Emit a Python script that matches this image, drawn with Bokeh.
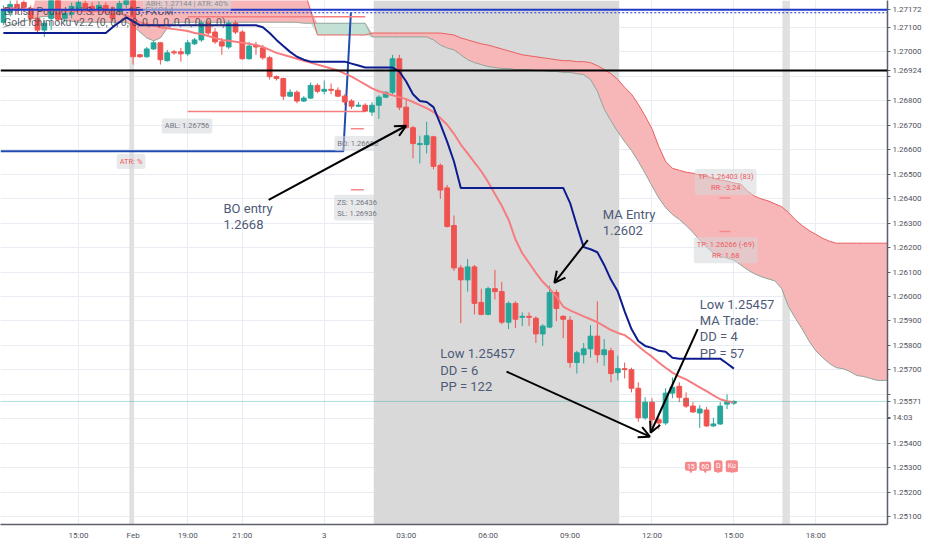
import numpy as np
from bokeh.plotting import figure
from bokeh.models import (ColumnDataSource, FixedTicker, Label, Arrow, OpenHead,
                          BoxAnnotation, NumeralTickFormatter, Range1d, Span)
from bokeh.core.properties import value
from bokeh.embed import file_html
from bokeh.resources import INLINE

# ---------------- data (15-minute bars, index 0 = first bar of February) ----------------
FIRST_BAR = -19

opens = [
    1.27121, 1.27162, 1.27194, 1.27202, 1.27178, 1.27137, 1.27089, 1.27137, 1.27210, 1.27137,
    1.27154, 1.27178, 1.27198, 1.27186, 1.27174, 1.27190, 1.27170, 1.27162, 1.27194, 1.27218,
    1.26988, 1.26980, 1.27012, 1.27037, 1.26964, 1.27000, 1.27000, 1.26992, 1.27033, 1.27049,
    1.27117, 1.27081, 1.27041, 1.27020, 1.27117, 1.27081, 1.26972, 1.27028, 1.27016, 1.26976,
    1.26899, 1.26891, 1.26819, 1.26835, 1.26799, 1.26811, 1.26863, 1.26839, 1.26847, 1.26843,
    1.26819, 1.26799, 1.26778, 1.26782, 1.26754, 1.26782, 1.26815, 1.26835, 1.26972, 1.26774,
    1.26690, 1.26621, 1.26621, 1.26653, 1.26536, 1.26444, 1.26290, 1.26117, 1.26068, 1.26121,
    1.25976, 1.25927, 1.26032, 1.26020, 1.25895, 1.25972, 1.25915, 1.25919, 1.25911, 1.25847,
    1.25875, 1.26016, 1.25919, 1.25903, 1.25730, 1.25762, 1.25786, 1.25838, 1.25762, 1.25778,
    1.25689, 1.25705, 1.25701, 1.25625, 1.25504, 1.25568, 1.25496, 1.25483, 1.25605, 1.25633,
    1.25584, 1.25552, 1.25524, 1.25536, 1.25471, 1.25479, 1.25560, 1.25564,
]
highs = [
    1.27190, 1.27210, 1.27218, 1.27226, 1.27190, 1.27154, 1.27129, 1.27234, 1.27226, 1.27170,
    1.27202, 1.27218, 1.27210, 1.27202, 1.27206, 1.27202, 1.27186, 1.27210, 1.27226, 1.27230,
    1.26992, 1.27020, 1.27045, 1.27041, 1.27008, 1.27008, 1.27016, 1.27049, 1.27057, 1.27129,
    1.27129, 1.27097, 1.27057, 1.27129, 1.27129, 1.27089, 1.27041, 1.27041, 1.27028, 1.26984,
    1.26903, 1.26895, 1.26847, 1.26843, 1.26819, 1.26875, 1.26871, 1.26883, 1.26871, 1.26855,
    1.26827, 1.26807, 1.26795, 1.26790, 1.26795, 1.26823, 1.26839, 1.26988, 1.26988, 1.26807,
    1.26698, 1.26657, 1.26714, 1.26657, 1.26544, 1.26456, 1.26331, 1.26129, 1.26153, 1.26129,
    1.26032, 1.26040, 1.26109, 1.26060, 1.25980, 1.25980, 1.25935, 1.25935, 1.25919, 1.25887,
    1.26044, 1.26028, 1.25923, 1.25919, 1.25778, 1.25810, 1.25883, 1.25980, 1.25826, 1.25790,
    1.25758, 1.25730, 1.25709, 1.25649, 1.25588, 1.25584, 1.25504, 1.25625, 1.25669, 1.25649,
    1.25608, 1.25568, 1.25556, 1.25548, 1.25504, 1.25568, 1.25600, 1.25576,
]
lows = [
    1.27109, 1.27145, 1.27154, 1.27162, 1.27121, 1.27081, 1.27061, 1.27089, 1.27121, 1.27121,
    1.27137, 1.27162, 1.27162, 1.27149, 1.27162, 1.27154, 1.27125, 1.27149, 1.27178, 1.26948,
    1.26976, 1.26976, 1.27008, 1.26948, 1.26960, 1.26988, 1.26960, 1.26984, 1.27028, 1.27041,
    1.27069, 1.27033, 1.26988, 1.27012, 1.27073, 1.26968, 1.26968, 1.26988, 1.26968, 1.26887,
    1.26883, 1.26803, 1.26815, 1.26790, 1.26795, 1.26807, 1.26831, 1.26827, 1.26827, 1.26815,
    1.26782, 1.26766, 1.26774, 1.26754, 1.26738, 1.26726, 1.26811, 1.26827, 1.26762, 1.26686,
    1.26565, 1.26544, 1.26585, 1.26520, 1.26399, 1.26282, 1.26105, 1.25891, 1.26020, 1.25927,
    1.25923, 1.25923, 1.25988, 1.25887, 1.25867, 1.25871, 1.25879, 1.25879, 1.25810, 1.25798,
    1.25871, 1.25899, 1.25830, 1.25709, 1.25685, 1.25726, 1.25750, 1.25730, 1.25717, 1.25649,
    1.25657, 1.25665, 1.25608, 1.25488, 1.25496, 1.25463, 1.25457, 1.25475, 1.25584, 1.25568,
    1.25544, 1.25524, 1.25463, 1.25467, 1.25467, 1.25475, 1.25540, 1.25556,
]
closes = [
    1.27170, 1.27194, 1.27170, 1.27182, 1.27137, 1.27089, 1.27117, 1.27218, 1.27133, 1.27158,
    1.27186, 1.27202, 1.27178, 1.27170, 1.27190, 1.27170, 1.27137, 1.27198, 1.27214, 1.26980,
    1.26980, 1.27012, 1.27037, 1.26968, 1.26996, 1.26996, 1.26992, 1.27037, 1.27049, 1.27117,
    1.27077, 1.27041, 1.27024, 1.27117, 1.27081, 1.26972, 1.27024, 1.27020, 1.26976, 1.26899,
    1.26891, 1.26819, 1.26835, 1.26799, 1.26811, 1.26863, 1.26839, 1.26847, 1.26843, 1.26819,
    1.26795, 1.26778, 1.26782, 1.26758, 1.26782, 1.26815, 1.26835, 1.26972, 1.26774, 1.26690,
    1.26625, 1.26625, 1.26657, 1.26532, 1.26435, 1.26286, 1.26117, 1.26068, 1.26121, 1.25972,
    1.25927, 1.26032, 1.26020, 1.25895, 1.25972, 1.25907, 1.25919, 1.25915, 1.25847, 1.25879,
    1.26016, 1.25951, 1.25907, 1.25730, 1.25770, 1.25786, 1.25838, 1.25762, 1.25782, 1.25685,
    1.25705, 1.25701, 1.25625, 1.25504, 1.25568, 1.25496, 1.25483, 1.25605, 1.25629, 1.25588,
    1.25552, 1.25528, 1.25540, 1.25471, 1.25479, 1.25552, 1.25568, 1.25571,
]
kijun = [
    1.27077, 1.27077, 1.27077, 1.27077, 1.27077, 1.27077, 1.27077, 1.27077, 1.27077, 1.27077,
    1.27077, 1.27077, 1.27077, 1.27077, 1.27077, 1.27077, 1.27101, 1.27121, 1.27141, 1.27125,
    1.27109, 1.27109, 1.27109, 1.27109, 1.27109, 1.27109, 1.27109, 1.27109, 1.27109, 1.27109,
    1.27109, 1.27109, 1.27109, 1.27109, 1.27109, 1.27109, 1.27109, 1.27109, 1.27101, 1.27077,
    1.27049, 1.27024, 1.27000, 1.26980, 1.26968, 1.26960, 1.26960, 1.26960, 1.26960, 1.26960,
    1.26960, 1.26952, 1.26944, 1.26936, 1.26936, 1.26936, 1.26936, 1.26936, 1.26920, 1.26879,
    1.26827, 1.26799, 1.26795, 1.26774, 1.26706, 1.26633, 1.26552, 1.26444, 1.26444, 1.26444,
    1.26444, 1.26444, 1.26444, 1.26444, 1.26444, 1.26444, 1.26444, 1.26444, 1.26444, 1.26444,
    1.26444, 1.26444, 1.26444, 1.26383, 1.26290, 1.26202, 1.26193, 1.26181, 1.26129, 1.26068,
    1.26020, 1.25939, 1.25867, 1.25818, 1.25798, 1.25790, 1.25778, 1.25774, 1.25750, 1.25746,
    1.25746, 1.25746, 1.25746, 1.25746, 1.25746, 1.25746, 1.25726, 1.25705,
]
ma_line = [
    1.27178, 1.27178, 1.27178, 1.27174, 1.27174, 1.27170, 1.27170, 1.27170, 1.27166, 1.27166,
    1.27166, 1.27166, 1.27166, 1.27166, 1.27166, 1.27162, 1.27162, 1.27158, 1.27149, 1.27137,
    1.27121, 1.27113, 1.27109, 1.27101, 1.27097, 1.27093, 1.27089, 1.27085, 1.27077, 1.27073,
    1.27065, 1.27057, 1.27049, 1.27045, 1.27041, 1.27037, 1.27033, 1.27028, 1.27020, 1.27008,
    1.26996, 1.26988, 1.26980, 1.26972, 1.26964, 1.26956, 1.26948, 1.26940, 1.26932, 1.26924,
    1.26911, 1.26899, 1.26883, 1.26867, 1.26851, 1.26839, 1.26831, 1.26823, 1.26815, 1.26807,
    1.26795, 1.26782, 1.26770, 1.26754, 1.26730, 1.26702, 1.26665, 1.26621, 1.26585, 1.26548,
    1.26512, 1.26468, 1.26419, 1.26371, 1.26314, 1.26234, 1.26177, 1.26137, 1.26097, 1.26060,
    1.26032, 1.26000, 1.25959, 1.25943, 1.25931, 1.25919, 1.25907, 1.25895, 1.25879, 1.25863,
    1.25851, 1.25842, 1.25822, 1.25798, 1.25774, 1.25754, 1.25730, 1.25709, 1.25689, 1.25673,
    1.25661, 1.25645, 1.25629, 1.25613, 1.25596, 1.25580, 1.25572, 1.25568,
]
# Ichimoku cloud edges (projected 26 bars ahead), same first bar index
senkou_a = [
    1.27101, 1.27109, 1.27117, 1.27125, 1.27133, 1.27141, 1.27145, 1.27145, 1.27137, 1.27129,
    1.27125, 1.27121, 1.27121, 1.27121, 1.27121, 1.27121, 1.27121, 1.27121, 1.27121, 1.27105,
    1.27081, 1.27057, 1.27045, 1.27057, 1.27097, 1.27121, 1.27121, 1.27121, 1.27121, 1.27121,
    1.27121, 1.27121, 1.27121, 1.27121, 1.27121, 1.27121, 1.27121, 1.27121, 1.27121, 1.27121,
    1.27121, 1.27121, 1.27121, 1.27121, 1.27117, 1.27117, 1.27117, 1.27117, 1.27117, 1.27117,
    1.27117, 1.27117, 1.27117, 1.27117, 1.27061, 1.27061, 1.27061, 1.27061, 1.27061, 1.27061,
    1.27061, 1.27061, 1.27061, 1.27049, 1.27028, 1.27016, 1.27008, 1.26988, 1.26968, 1.26956,
    1.26948, 1.26940, 1.26936, 1.26932, 1.26932, 1.26928, 1.26928, 1.26928, 1.26924, 1.26924,
    1.26920, 1.26920, 1.26916, 1.26916, 1.26911, 1.26907, 1.26887, 1.26839, 1.26766, 1.26718,
    1.26673, 1.26633, 1.26597, 1.26552, 1.26504, 1.26452, 1.26403, 1.26363, 1.26335, 1.26315,
    1.26290, 1.26262, 1.26230, 1.26202, 1.26177, 1.26165, 1.26157, 1.26149, 1.26129, 1.26109,
    1.26093, 1.26081, 1.26072, 1.26064, 1.26032, 1.25959, 1.25911, 1.25867, 1.25818, 1.25778,
    1.25750, 1.25726, 1.25709, 1.25705, 1.25693, 1.25677, 1.25673, 1.25665, 1.25657, 1.25657,
    1.25657, 1.25657, 1.25657,
]
senkou_b = [
    None, None, None, None, None, 1.27258, 1.27258, 1.27258, 1.27258, 1.27258,
    1.27258, 1.27258, 1.27258, 1.27258, 1.27258, 1.27258, 1.27258, 1.27258, 1.27258, 1.27258,
    1.27258, 1.27258, 1.27258, 1.27258, 1.27258, 1.27258, 1.27258, 1.27258, 1.27258, 1.27258,
    1.27258, 1.27258, 1.27258, 1.27258, 1.27258, 1.27258, 1.27258, 1.27258, 1.27258, 1.27258,
    1.27258, 1.27258, 1.27258, 1.27258, 1.27258, 1.27170, 1.27069, 1.27069, 1.27069, 1.27069,
    1.27069, 1.27069, 1.27069, 1.27069, 1.27077, 1.27077, 1.27077, 1.27077, 1.27077, 1.27077,
    1.27077, 1.27077, 1.27077, 1.27077, 1.27077, 1.27073, 1.27069, 1.27057, 1.27049, 1.27041,
    1.27033, 1.27028, 1.27020, 1.27012, 1.27004, 1.26996, 1.26988, 1.26984, 1.26980, 1.26976,
    1.26972, 1.26968, 1.26964, 1.26964, 1.26960, 1.26960, 1.26956, 1.26944, 1.26928, 1.26911,
    1.26887, 1.26855, 1.26827, 1.26786, 1.26738, 1.26686, 1.26613, 1.26552, 1.26524, 1.26516,
    1.26508, 1.26504, 1.26496, 1.26492, 1.26484, 1.26476, 1.26472, 1.26464, 1.26460, 1.26431,
    1.26411, 1.26399, 1.26391, 1.26379, 1.26367, 1.26343, 1.26314, 1.26290, 1.26270, 1.26254,
    1.26238, 1.26226, 1.26218, 1.26218, 1.26218, 1.26218, 1.26218, 1.26218, 1.26218, 1.26218,
    1.26218, 1.26218, 1.26218,
]

time_tick_bars = [-8, 0, 8, 16, 28, 40, 52, 64, 76, 88, 100]
time_tick_labels = ["15:00", "Feb", "19:00", "21:00", "3", "03:00", "06:00",
                    "09:00", "12:00", "15:00", "18:00"]
price_ticks = [1.251, 1.252, 1.253, 1.254, 1.255, 1.256, 1.257, 1.258, 1.259, 1.260, 1.261,
               1.262, 1.263, 1.264, 1.265, 1.266, 1.267, 1.268, 1.269, 1.270, 1.271]

view_bars = (-19.42, 110.5)
view_prices = (1.25068, 1.27210)

session_start, session_end = 35.25, 71.2
break_starts = [-0.55, 95.1]
break_ends = [0.15, 96.2]

# horizontal levels
blue_level = 1.27172
box_top_level = 1.27160
black_level = 1.26924
last_price = 1.25571
countdown_level, countdown_text = 1.25504, "14:03"
hidden_price_labels = [1.269, 1.256, 1.255]   # covered by the level tags on the price scale
range_box_k = [-19.42, 30.8, 31.9]
range_box_price = [1.26594, 1.26594, 1.27160]
dotted_k = [-1.0, 110.5]
abh_abl_levels = [1.27144, 1.26756]
abh_abl_k = (8.0, 34.0)
marker_levels = [1.26686, 1.26436, 1.26403, 1.26266]
marker_k0 = [31.9, 31.9, 85.9, 85.9]
marker_k1 = [33.8, 33.8, 87.5, 87.5]

# indicator info boxes
info_k = [7.9, 7.9, -0.3, 32.9, 32.8, 86.8, 86.8]
info_price = [1.27198, 1.26697, 1.26552, 1.26625, 1.26363, 1.26468, 1.26189]
info_text = ["ABH: 1.27144 | ATR: 40%", "ABL: 1.26756", "ATR: %", "BO: 1.26686",
             "ZS: 1.26436\nSL: 1.26936", "TP: 1.26403 (83)\nRR: -3.24",
             "TP: 1.26266 (-69)\nRR: 1.68"]
info_color = ["#8a8d96", "#72757f", "#f0595b", "#72757f", "#72757f", "#f0595b", "#f0595b"]

# hand-drawn notes and arrows
note_k = [13.24, 68.8, 45.0, 83.0]
note_price = [1.26390, 1.26366, 1.25796, 1.25998]
note_text = ["BO entry\n1.2668", "MA Entry\n1.2602", "Low 1.25457\nDD = 6\nPP = 122",
             "Low 1.25457\nMA Trade:\nDD = 4\nPP = 57"]
arrow_k0 = [19.86, 66.6, 54.7, 82.7]
arrow_p0 = [1.26395, 1.26230, 1.25693, 1.25867]
arrow_k1 = [40.0, 61.7, 75.7, 75.8]
arrow_p1 = [1.26698, 1.26056, 1.25427, 1.25443]

tag_k = [81.7, 83.8, 85.7, 87.7]
tag_price = [1.25306, 1.25306, 1.25306, 1.25306]
tag_text = ["15", "60", "D", "Ku"]

legend_k = [-18.9, -18.9]
legend_price = [1.27166, 1.27120]
legend_text = ["British Pound / U.S. Dollar, 15, FXCM",
               "Gold Ichimoku v2.2 (0, 0, 0, 0, 0, 0, 0, 0, 0, 0, 0, 0)"]

UP, DOWN = "#26a69a", "#ef5350"
FONT = "Roboto"

# ---------------- figure ----------------
p = figure(width=924, height=542, x_range=Range1d(*view_bars), y_range=Range1d(*view_prices),
           y_axis_location="right", toolbar_location=None, output_backend="svg",
           min_border_left=0, min_border_top=0, min_border_right=0, min_border_bottom=0,
           outline_line_color=None, background_fill_color="white", border_fill_color="white")

p.xaxis.ticker = FixedTicker(ticks=time_tick_bars)
p.xaxis.major_label_overrides = {t: l for t, l in zip(time_tick_bars, time_tick_labels)}
axis_ticks = price_ticks + [blue_level, black_level, last_price, countdown_level]
p.yaxis.ticker = FixedTicker(ticks=axis_ticks)
p.yaxis.formatter = NumeralTickFormatter(format="0.00000")
overrides = {t: "" for t in hidden_price_labels}
overrides[countdown_level] = countdown_text
p.yaxis.major_label_overrides = overrides
for ax in (p.xaxis, p.yaxis):
    ax.major_label_text_font = FONT
    ax.major_label_text_font_size = "8px"
    ax.major_label_text_color = "#50535e"
    ax.axis_line_color = "#5d606b"
    ax.axis_line_width = 1.5
    ax.minor_tick_line_color = None
    ax.major_tick_line_color = "#5d606b"
    ax.major_tick_in = 0
p.xaxis.major_tick_out = 0
p.xaxis.major_label_standoff = 6
p.yaxis.major_tick_out = 3
p.yaxis.major_label_standoff = 2
p.xgrid.ticker = FixedTicker(ticks=time_tick_bars)
p.ygrid.ticker = FixedTicker(ticks=price_ticks)
p.grid.grid_line_color = "#e9edf3"

# session shading
p.add_layout(BoxAnnotation(left=session_start, right=session_end, fill_color="#d9d9d9",
                           fill_alpha=1, line_color=None, level="underlay"))
for b0, b1 in zip(break_starts, break_ends):
    p.add_layout(BoxAnnotation(left=b0, right=b1, fill_color="#e0e0e0", fill_alpha=1,
                               line_color=None, level="underlay"))

# ichimoku cloud
cloud_idx = np.arange(FIRST_BAR, FIRST_BAR + len(senkou_a))
sa = np.array(senkou_a, dtype=float)
sb = np.array(senkou_b, dtype=float)
sb_fill = np.where(np.isnan(sb), sa, sb)
cloud = ColumnDataSource(dict(x=cloud_idx, a=sa, b=sb,
                              red_top=np.maximum(sa, sb_fill),
                              green_bot=np.minimum(sa, sb_fill)))
p.varea(x="x", y1="a", y2="red_top", source=cloud, fill_color="#f7b6b7", fill_alpha=1)
p.varea(x="x", y1="green_bot", y2="a", source=cloud, fill_color="#c3e0d5", fill_alpha=1)
p.line("x", "a", source=cloud, line_color="#8fa59a", line_width=1)
p.line("x", "b", source=cloud, line_color="#e8605f", line_width=1)

# range box and reference lines
p.line(range_box_k, range_box_price, line_color="#1f4ab0", line_width=2)
p.line(dotted_k, [box_top_level, box_top_level], line_color="#1c39c8", line_width=1.2,
       line_dash="2 2")
p.segment(x0=[abh_abl_k[0]] * 2, x1=[abh_abl_k[1]] * 2, y0=abh_abl_levels, y1=abh_abl_levels,
          line_color="#f77c80", line_width=1.5)
p.segment(x0=marker_k0, x1=marker_k1, y0=marker_levels, y1=marker_levels,
          line_color="#f48a8c", line_width=1.5)

# candles
bars = np.arange(FIRST_BAR, FIRST_BAR + len(opens))
o, h, l, c = (np.array(v) for v in (opens, highs, lows, closes))
candles = ColumnDataSource(dict(bar=bars, high=h, low=l, top=np.maximum(o, c),
                                bot=np.minimum(o, c),
                                candle_color=np.where(c >= o, UP, DOWN)))
p.segment(x0="bar", y0="low", x1="bar", y1="high", source=candles,
          line_color="candle_color", line_width=1)
p.vbar(x="bar", width=0.7, top="top", bottom="bot", source=candles,
       fill_color="candle_color", line_color="candle_color", line_width=1)

# indicator lines
p.line(bars, ma_line, line_color="#f77c80", line_width=2)
p.line(bars, kijun, line_color="#0e1d8e", line_width=2)

# horizontal levels
p.add_layout(Span(location=blue_level, dimension="width", line_color="#1c39c8", line_width=2))
p.add_layout(Span(location=black_level, dimension="width", line_color="black", line_width=2))
p.add_layout(Span(location=last_price, dimension="width", line_color="#26a69a", line_width=1,
                  line_alpha=0.7, line_dash="1 1"))

# info boxes
for k, pr, t, col in zip(info_k, info_price, info_text, info_color):
    p.add_layout(Label(x=k, y=pr, text=t, text_align="center", text_baseline="middle",
                       text_font=FONT, text_font_size="7.5px", text_color=col,
                       background_fill_color="#d6d7db", background_fill_alpha=0.55,
                       border_radius=2, padding=3))

# notes
p.text(note_k, note_price, text=note_text, text_align="left", text_baseline="top",
       text_font=value(FONT), text_font_size="13px", text_color="#4e5a78",
       text_line_height=1.08)
arrows = ColumnDataSource(dict(x0=arrow_k0, y0=arrow_p0, x1=arrow_k1, y1=arrow_p1))
p.add_layout(Arrow(end=OpenHead(size=11, line_color="black", line_width=2),
                   x_start="x0", y_start="y0", x_end="x1", y_end="y1", source=arrows,
                   line_color="black", line_width=2))

# event tags
p.scatter(tag_k, [pr - 0.00018 for pr in tag_price], marker="inverted_triangle", size=5,
          fill_color="#f48a8c", line_color=None)
for k, pr, t in zip(tag_k, tag_price, tag_text):
    p.add_layout(Label(x=k, y=pr, text=t, text_align="center", text_baseline="middle",
                       text_font=FONT, text_font_size="7px", text_color="white",
                       background_fill_color="#f48a8c", border_radius=2, padding=2))

# legend
p.text(legend_k, legend_price, text=legend_text, text_align="left", text_baseline="middle",
       text_font=value(FONT), text_font_size="10.5px", text_color="#3d4150",
       text_alpha=0.85)

open("out.html", "w").write(file_html(p, INLINE))
